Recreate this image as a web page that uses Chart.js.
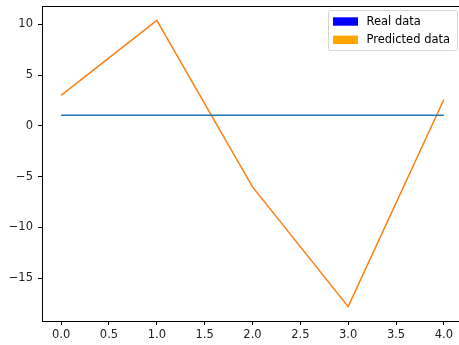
<!DOCTYPE html>
<html>
<head>
<meta charset="utf-8">
<script src="https://cdn.jsdelivr.net/npm/chart.js@4/dist/chart.umd.min.js"></script>
<style>
html,body{margin:0;padding:0;background:#fff;overflow:hidden;width:459px;height:345px;}
#wrap{width:465px;height:345px;}
</style>
</head>
<body>
<div id="wrap"><canvas id="c" width="465" height="345"></canvas></div>
<script>
const xValues = [0, 1, 2, 3, 4];
const realValues = [1.05, 1.05, 1.05, 1.05, 1.05];
const predictedValues = [3.0, 10.4, -6.0, -17.8, 2.6];
const seriesLabels = ['Real data', 'Predicted data'];
const lineColors = ['#1f77b4', '#ff7f0e'];
const legendColors = ['#0000ff', '#ffa500'];
const xTicks = [0, 0.5, 1, 1.5, 2, 2.5, 3, 3.5, 4];
const yTicks = [-15, -10, -5, 0, 5, 10];

const font = {family: 'DejaVu Sans', size: 11.5};

const frame = {
  id: 'frame',
  afterDraw(chart) {
    const {ctx, chartArea: a} = chart;
    ctx.save();
    ctx.strokeStyle = '#000';
    ctx.lineWidth = 1;
    ctx.strokeRect(Math.round(a.left) + 0.5, Math.round(a.top) + 0.5, Math.round(a.right - a.left), Math.round(a.bottom - a.top));
    // legend
    const w = 129, h = 40;
    const x0 = a.right - 6 - w, y0 = a.top + 4;
    ctx.globalAlpha = 0.8;
    ctx.fillStyle = '#fff';
    ctx.strokeStyle = '#cccccc';
    ctx.beginPath();
    ctx.roundRect(x0 + 0.5, y0 + 0.5, w, h, 2);
    ctx.fill();
    ctx.stroke();
    ctx.globalAlpha = 1;
    ctx.font = '11.5px "DejaVu Sans"';
    ctx.textBaseline = 'middle';
    seriesLabels.forEach((lab, i) => {
      const cy = y0 + 11.5 + i * 18.3;
      ctx.fillStyle = legendColors[i];
      ctx.fillRect(x0 + 5, cy - 4.2, 25, 8.4);
      ctx.fillStyle = '#000';
      ctx.fillText(lab, x0 + 38.5, cy + 0.5);
    });
    ctx.restore();
  }
};

new Chart(document.getElementById('c'), {
  type: 'scatter',
  data: {
    datasets: [
      {label: seriesLabels[0], data: xValues.map((x, i) => ({x, y: realValues[i]})), showLine: true, borderColor: lineColors[0], backgroundColor: lineColors[0], borderWidth: 1.5, pointRadius: 0, tension: 0},
      {label: seriesLabels[1], data: xValues.map((x, i) => ({x, y: predictedValues[i]})), showLine: true, borderColor: lineColors[1], backgroundColor: lineColors[1], borderWidth: 1.5, pointRadius: 0, tension: 0}
    ]
  },
  options: {
    responsive: false,
    animation: false,
    layout: {padding: {left: 0, top: 6, right: 2, bottom: 0}},
    plugins: {legend: {display: false}, tooltip: {enabled: false}},
    scales: {
      x: {
        type: 'linear', min: -0.2, max: 4.2,
        afterBuildTicks: s => { s.ticks = xTicks.map(v => ({value: v})); },
        afterFit: s => { s.height = 24; s.paddingLeft = 0; s.paddingRight = 0; },
        grid: {display: true, drawOnChartArea: false, drawTicks: true, tickLength: 4, color: '#000', tickWidth: 1},
        border: {display: true, color: '#000', width: 1},
        ticks: {font, color: '#222', padding: 3, maxRotation: 0, callback: v => Number(v).toFixed(1)}
      },
      y: {
        type: 'linear', min: -19.21, max: 11.81,
        afterBuildTicks: s => { s.ticks = yTicks.map(v => ({value: v})); },
        afterFit: s => { s.width = 42; s.paddingTop = 0; s.paddingBottom = 0; },
        grid: {display: true, drawOnChartArea: false, drawTicks: true, tickLength: 4, color: '#000', tickWidth: 1},
        border: {display: true, color: '#000', width: 1},
        ticks: {font, color: '#222', padding: 5, callback: v => (v < 0 ? '\u2212' + Math.abs(v) : String(v))}
      }
    }
  },
  plugins: [frame]
});
</script>
</body>
</html>
